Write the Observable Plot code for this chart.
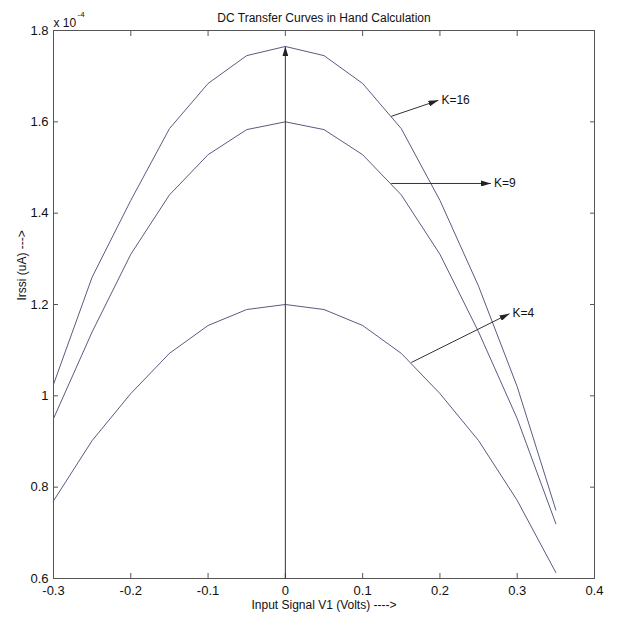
<!DOCTYPE html>
<html>
<head>
<meta charset="utf-8">
<script src="https://cdn.jsdelivr.net/npm/d3@7"></script>
<script src="https://cdn.jsdelivr.net/npm/@observablehq/plot@0.6"></script>
<style>
  html, body { margin: 0; padding: 0; background: #fff; }
  #chart svg { display: block; }
</style>
</head>
<body>
<div id="chart"></div>
<script>
// ---- data ----
const titleText = "DC Transfer Curves in Hand Calculation";
const xLabel = "Input Signal V1 (Volts) ---->";
const yLabel = "Irssi (uA) --->";
const xs  = [-0.3, -0.25, -0.2, -0.15, -0.1, -0.05, 0, 0.05, 0.1, 0.15, 0.2, 0.25, 0.3, 0.35];
const k16 = [1.025, 1.26, 1.428, 1.585, 1.684, 1.745, 1.765, 1.745, 1.684, 1.585, 1.428, 1.24, 1.02, 0.75];
const k9  = [0.95, 1.14, 1.31, 1.44, 1.528, 1.583, 1.60, 1.583, 1.528, 1.44, 1.31, 1.14, 0.95, 0.72];
const k4  = [0.77, 0.902, 1.005, 1.093, 1.154, 1.189, 1.20, 1.189, 1.154, 1.093, 1.005, 0.902, 0.771, 0.613];
const xTicks = [-0.3, -0.2, -0.1, 0, 0.1, 0.2, 0.3, 0.4];
const yTicks = [0.6, 0.8, 1.0, 1.2, 1.4, 1.6, 1.8];
// annotation arrows: start (x1,y1) -> tip (x2,y2), label
const annLabels = ["K=16", "K=9", "K=4"];
const annX1 = [0.137, 0.137, 0.163];
const annY1 = [1.612, 1.465, 1.073];
const annX2 = [0.198, 0.266, 0.290];
const annY2 = [1.647, 1.465, 1.180];
// vertical arrow at V1 = 0
const vArrowX = [0];
const vArrowY1 = [0.6];
const vArrowY2 = [1.765];

// ---- build tables ----
const series = [["K=16", k16], ["K=9", k9], ["K=4", k4]];
const lineData = series.flatMap(([k, vals]) => xs.map((x, i) => ({k, x, y: vals[i]})));
const annData = annLabels.map((label, i) => ({label, x1: annX1[i], y1: annY1[i], x2: annX2[i], y2: annY2[i]}));
const vData = vArrowX.map((x, i) => ({label: "", x1: x, x2: x, y1: vArrowY1[i], y2: vArrowY2[i]}));
const linkData = annData.concat(vData);

const fmt = d => String(+(+d).toFixed(1));
const lineColor = "#585c80";
const axisColor = "#555";

const plot = Plot.plot({
  width: 618,
  height: 623,
  marginLeft: 53,
  marginRight: 24,
  marginTop: 30,
  marginBottom: 45,
  style: {fontFamily: "'Liberation Sans', Arial, sans-serif", fontSize: "13px", color: "#111", background: "#fff"},
  x: {domain: [-0.3, 0.4]},
  y: {domain: [0.6, 1.8]},
  marks: [
    Plot.frame({stroke: axisColor}),
    Plot.axisX({anchor: "bottom", ticks: xTicks, tickFormat: fmt, tickSize: -5, tickPadding: 12, stroke: axisColor, label: null, fontSize: 13}),
    Plot.axisX({anchor: "top", ticks: xTicks, tickFormat: () => "", tickSize: -5, stroke: axisColor, label: null}),
    Plot.axisY({anchor: "left", ticks: yTicks, tickFormat: fmt, tickSize: -5, tickPadding: 10, stroke: axisColor, label: null, fontSize: 13}),
    Plot.axisY({anchor: "right", ticks: yTicks, tickFormat: () => "", tickSize: -5, stroke: axisColor, label: null}),
    Plot.line(lineData, {x: "x", y: "y", z: "k", stroke: lineColor, strokeWidth: 1}),
    Plot.link(linkData, {x1: "x1", y1: "y1", x2: "x2", y2: "y2", stroke: "#333", strokeWidth: 1}),
    Plot.text(annData, {x: "x2", y: "y2", text: "label", textAnchor: "start", dx: 3, fill: "#111", fontSize: 12}),
    Plot.text([titleText], {frameAnchor: "top", dy: -17, fontSize: 12, fill: "#111"}),
    Plot.text([xLabel], {frameAnchor: "bottom", dy: 30, fontSize: 12, fill: "#111"}),
    Plot.text([yLabel], {frameAnchor: "left", rotate: -90, dx: -31, dy: -4, fontSize: 12, fill: "#111"}),
    Plot.text(["x 10"], {frameAnchor: "top-left", textAnchor: "start", dx: 0, dy: -12, fontSize: 12, fill: "#111"}),
    Plot.text(["-4"], {frameAnchor: "top-left", textAnchor: "start", dx: 24, dy: -19, fontSize: 8, fill: "#111"})
  ]
});

// filled triangular arrowheads on the annotation links
const svg = d3.select(plot.tagName.toLowerCase() === "svg" ? plot : plot.querySelector("svg"));
const defs = svg.insert("defs", ":first-child");
defs.append("marker")
  .attr("id", "triHead").attr("markerUnits", "userSpaceOnUse")
  .attr("viewBox", "0 0 10 6").attr("markerWidth", 10).attr("markerHeight", 6)
  .attr("refX", 10).attr("refY", 3).attr("orient", "auto")
  .append("path").attr("d", "M0,0L10,3L0,6Z").attr("fill", "#222");
svg.selectAll('g[aria-label="link"] path').attr("marker-end", "url(#triHead)");

document.getElementById("chart").appendChild(plot);
</script>
</body>
</html>
